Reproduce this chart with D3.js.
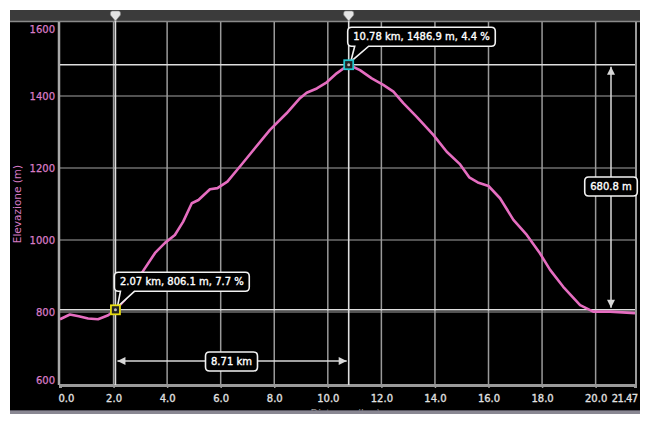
<!DOCTYPE html>
<html><head><meta charset="utf-8">
<script src="https://cdn.jsdelivr.net/npm/d3@7"></script>
<style>
html,body{margin:0;padding:0;background:#fff;}
svg{display:block;font-family:"DejaVu Sans",Verdana,sans-serif;}
text{paint-order:stroke;}
</style></head>
<body><svg id="c" width="650" height="423"></svg>
<script>
// ---- data ----
const distances = [0, 0.37, 0.7, 1.05, 1.42, 1.8, 2.07, 2.4, 2.68, 3.05, 3.55, 3.92, 4.29, 4.6, 4.92, 5.17, 5.6, 5.88, 6.25, 6.75, 7.2, 7.84, 8.46, 8.96, 9.21, 9.59, 9.96, 10.33, 10.78, 11.2, 11.64, 12.07, 12.45, 12.82, 13.32, 13.94, 14.44, 14.94, 15.28, 15.6, 16.0, 16.43, 16.93, 17.43, 17.92, 18.3, 18.79, 19.42, 19.91, 20.54, 21.47];
const elevations = [780, 793, 788, 782, 780, 791, 806.1, 832, 861, 908, 964, 992, 1014, 1051, 1102, 1111, 1141, 1144, 1162, 1207, 1248, 1306, 1352, 1394, 1409, 1421, 1438, 1463, 1486.9, 1472, 1449, 1431, 1412, 1380, 1342, 1292, 1245, 1210, 1174, 1160, 1150, 1116, 1056, 1014, 963, 917, 870, 819, 801, 801, 797];
const xTicks = [0, 2, 4, 6, 8, 10, 12, 14, 16, 18, 20, 21.47];
const xTickLabels = ["0.0", "2.0", "4.0", "6.0", "8.0", "10.0", "12.0", "14.0", "16.0", "18.0", "20.0", "21.47"];
const yTicks = [600, 800, 1000, 1200, 1400, 1600];
const markerKm = [2.07, 10.78];
const markerElev = [806.1, 1486.9];
const markerLabels = ["2.07 km, 806.1 m, 7.7 %", "10.78 km, 1486.9 m, 4.4 %"];
const markerColors = ["#e6dc10", "#22c4cc"];
const distLabel = "8.71 km";
const climbLabel = "680.8 m";
const xTitle = "Distanza (km)";
const yTitle = "Elevazione (m)";

// ---- layout ----
const L = 60, R = 635, T = 22, B = 384;
const svg = d3.select("#c");
const x = d3.scaleLinear().domain([0, 21.47]).range([L, R]);
const y = d3.scaleLinear().domain([600, 1600]).range([B, 24]);
const pink = "#e56dc0";

svg.append("defs").append("clipPath").attr("id", "panel")
  .append("rect").attr("x", 10).attr("y", 10).attr("width", 630).attr("height", 401);

const g = svg.append("g").attr("clip-path", "url(#panel)");
g.append("rect").attr("x", 10).attr("y", 10).attr("width", 630).attr("height", 401).attr("fill", "#000");
svg.append("rect").attr("x", 10).attr("y", 410).attr("width", 630).attr("height", 4).attr("fill", "#6d6a78").attr("opacity", 0.8);

// top bar
g.append("rect").attr("x", 10).attr("y", 10).attr("width", 630).attr("height", 12).attr("fill", "#3b3b3b");
g.append("line").attr("x1", 10).attr("x2", 640).attr("y1", 21.5).attr("y2", 21.5).attr("stroke", "#8a8a8a").attr("stroke-width", 1.5);

// grid
const grid = g.append("g");
grid.selectAll("line.h").data(yTicks.filter(v => v > 600 && v < 1600)).join("line")
  .attr("x1", L).attr("x2", R).attr("y1", d => y(d)).attr("y2", d => y(d))
  .attr("stroke", "#6e6e6e").attr("stroke-width", 1.5);
grid.selectAll("line.v").data(xTicks.filter(v => v > 0 && v < 21.47)).join("line")
  .attr("x1", d => x(d)).attr("x2", d => x(d)).attr("y1", T).attr("y2", B)
  .attr("stroke", "#9a9a9a").attr("stroke-width", 1.5);

// axes
const xAxis = d3.axisBottom(x).tickValues(xTicks).tickFormat((d, i) => xTickLabels[i]).tickSize(3).tickPadding(7);
const xa = g.append("g").attr("transform", `translate(0,${B + 1})`).call(xAxis);
xa.select(".domain").attr("stroke", "#9a9a9a").attr("stroke-width", 3);
xa.selectAll(".tick line").attr("stroke", "#9a9a9a").attr("stroke-width", 1.5);
xa.selectAll(".tick text").attr("fill", "#e2e2e2").attr("font-size", 10).attr("font-family", "DejaVu Sans")
  .attr("stroke", "#e2e2e2").attr("stroke-width", 0.3);
xa.selectAll(".tick text").filter((d, i) => i === 0).attr("text-anchor", "start").attr("x", -2);
xa.selectAll(".tick text").filter((d, i) => i === xTicks.length - 1).attr("text-anchor", "end").attr("x", 2)
  .attr("letter-spacing", -0.6);

const yAxis = d3.axisLeft(y).tickValues(yTicks).tickFormat(d3.format("d")).tickSize(0).tickPadding(4);
const ya = g.append("g").attr("transform", `translate(${L - 1},0)`).call(yAxis);
ya.select(".domain").remove();
ya.selectAll(".tick text").attr("fill", "#d97cc6").attr("font-size", 10).attr("font-family", "DejaVu Sans")
  .attr("stroke", "#d97cc6").attr("stroke-width", 0.25)
  .attr("dy", d => d === 600 ? "-0.05em" : "0.32em")
  .attr("y", d => d === 1600 ? 5 : 0);
g.append("line").attr("x1", L - 1).attr("x2", L - 1).attr("y1", T).attr("y2", B + 1).attr("stroke", "#a8a8a8").attr("stroke-width", 2.5);
g.append("line").attr("x1", R + 1).attr("x2", R + 1).attr("y1", T).attr("y2", B + 1).attr("stroke", "#9a9a9a").attr("stroke-width", 2);

// titles
g.append("text").attr("transform", `translate(21,${(T + B) / 2 + 1}) rotate(-90)`)
  .attr("text-anchor", "middle").attr("fill", "#d97cc6").attr("font-size", 10.5).text(yTitle);
g.append("text").attr("x", (L + R) / 2 - 2).attr("y", 416.5).attr("text-anchor", "middle")
  .attr("fill", "#9a9a9a").attr("font-size", 10).text(xTitle);

// marker lines
const ml = g.append("g").attr("stroke", "#dedede").attr("stroke-width", 1.6);
markerKm.forEach(k => ml.append("line").attr("x1", x(k)).attr("x2", x(k)).attr("y1", 12).attr("y2", B + 1));
markerElev.forEach(e => ml.append("line").attr("x1", L).attr("x2", R).attr("y1", y(e)).attr("y2", y(e)));

// profile
const pts = distances.map((d, i) => [d, elevations[i]]);
g.append("path").datum(pts).attr("fill", "none").attr("stroke", pink).attr("stroke-width", 2.6)
  .attr("stroke-linejoin", "round")
  .attr("d", d3.line().x(d => x(d[0])).y(d => y(d[1])));

// top pins
markerKm.forEach(k => {
  const cx = x(k);
  g.append("path").attr("d", `M${cx - 5},13 Q${cx - 5},11 ${cx - 3},11 L${cx + 3},11 Q${cx + 5},11 ${cx + 5},13 L${cx + 5},15 L${cx},21 L${cx - 5},15 Z`)
    .attr("fill", "#e4e4e4").attr("stroke", "#888").attr("stroke-width", 0.6);
});

// arrows
function arrowHead(x0, y0, dir) {
  const s = 8, w = 4;
  let p;
  if (dir === 'l') p = [[x0, y0], [x0 + s, y0 - w], [x0 + s, y0 + w]];
  if (dir === 'r') p = [[x0, y0], [x0 - s, y0 - w], [x0 - s, y0 + w]];
  if (dir === 'u') p = [[x0, y0], [x0 - w, y0 + s], [x0 + w, y0 + s]];
  if (dir === 'd') p = [[x0, y0], [x0 - w, y0 - s], [x0 + w, y0 - s]];
  g.append("path").attr("d", "M" + p.join("L") + "Z").attr("fill", "#d8d8d8");
}
const ay = 361;
g.append("line").attr("x1", x(markerKm[0]) + 2).attr("x2", x(markerKm[1]) - 2).attr("y1", ay).attr("y2", ay)
  .attr("stroke", "#d8d8d8").attr("stroke-width", 1.5);
arrowHead(x(markerKm[0]) + 2, ay, 'l');
arrowHead(x(markerKm[1]) - 2, ay, 'r');
const ax = 611;
g.append("line").attr("x1", ax).attr("x2", ax).attr("y1", y(markerElev[1]) + 2).attr("y2", y(markerElev[0]) - 2)
  .attr("stroke", "#d8d8d8").attr("stroke-width", 1.5);
arrowHead(ax, y(markerElev[1]) + 2, 'u');
arrowHead(ax, y(markerElev[0]) - 2, 'd');

// labels
function roundBox(cx, cy, text, opts) {
  const grp = g.append("g");
  const t = grp.append("text").attr("font-size", 10).attr("fill", "#fff").attr("text-anchor", "middle")
    .attr("stroke", "#fff").attr("stroke-width", 0.35)
    .attr("x", cx).attr("y", cy).attr("dy", "0.35em").text(text);
  const w = t.node().getComputedTextLength() + 11, h = 19, r = 4;
  const x0 = cx - w / 2, y0 = cy - h / 2, x1 = x0 + w, y1 = y0 + h;
  let d = `M${x0 + r},${y0} L${x1 - r},${y0} Q${x1},${y0} ${x1},${y0 + r} L${x1},${y1 - r} Q${x1},${y1} ${x1 - r},${y1}`;
  if (opts && opts.tail) {
    const [b1, b2, tx, ty] = opts.tail;
    d += ` L${x0 + b2},${y1} L${tx},${ty} L${x0 + b1},${y1}`;
  }
  d += ` L${x0 + r},${y1} Q${x0},${y1} ${x0},${y1 - r} L${x0},${y0 + r} Q${x0},${y0} ${x0 + r},${y0} Z`;
  grp.insert("path", "text").attr("d", d).attr("fill", "#000").attr("stroke", "#f2f2f2").attr("stroke-width", 1.6);
  return w;
}
roundBox(231.5, 361.5, distLabel);
roundBox(611, 186.5, climbLabel);

// markers + callouts
markerKm.forEach((k, i) => {
  const mx = x(k), my = y(markerElev[i]);
  const t = g.append("text").attr("font-size", 10).text(markerLabels[i]);
  const tw = t.node().getComputedTextLength() + 11; t.remove();
  const bx = mx - 1 + tw / 2;
  const by = my - 28;
  roundBox(bx, by, markerLabels[i], { tail: i === 0 ? [6, 20, mx + 2, my - 3] : [7, 21, mx + 2, my - 3] });
  g.append("rect").attr("x", mx - 4.5).attr("y", my - 4.5).attr("width", 9).attr("height", 9)
    .attr("fill", "#222").attr("stroke", markerColors[i]).attr("stroke-width", 1.8);
  g.append("circle").attr("cx", mx).attr("cy", my).attr("r", 1.5).attr("fill", "#bbb");
});
</script></body></html>
